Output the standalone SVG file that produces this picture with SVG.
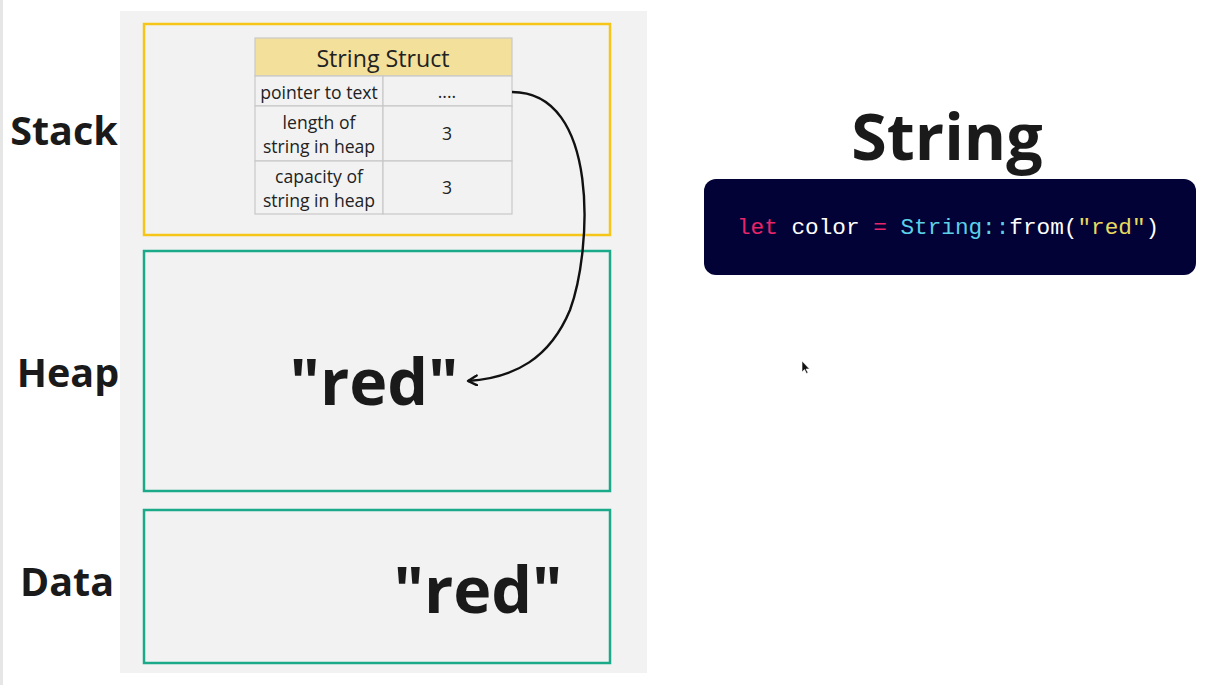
<svg xmlns="http://www.w3.org/2000/svg" width="1222" height="685" viewBox="0 0 1222 685">
<defs>
<style>
.lbl{font-family:"Open Sans","Noto Sans",sans-serif;font-weight:bold;fill:#1a1a1a}
.cell{font-family:"Open Sans","Noto Sans",sans-serif;font-size:17.6px;fill:#222;text-anchor:middle}
.tb{fill:#f2f2f2;stroke:#c8c8c8;stroke-width:1.2}
.code{font-family:"Liberation Mono","DejaVu Sans Mono",monospace;font-size:22.7px}
</style>
<marker id="ah" viewBox="0 0 12 12" refX="10" refY="6" markerWidth="12" markerHeight="12" markerUnits="userSpaceOnUse" orient="auto">
<path d="M1,1 L10,6 L1,11" fill="none" stroke="#111" stroke-width="2.4" stroke-linecap="round" stroke-linejoin="round"/>
</marker>
</defs>
<rect width="1222" height="685" fill="#ffffff"/>
<rect x="0" y="0" width="3" height="685" fill="#e6e6e6"/>
<rect x="120" y="11" width="527" height="662" fill="#f2f2f2"/>

<g id="stack">
<rect x="144" y="24" width="466" height="211" fill="none" stroke="#f5c518" stroke-width="2.5"/>
<text class="lbl" x="64" y="145" font-size="39.5" text-anchor="middle">Stack</text>
</g>
<g id="heap">
<rect x="144" y="251" width="466" height="240" fill="none" stroke="#1aaa8a" stroke-width="2.5"/>
<text class="lbl" x="68" y="387" font-size="39.5" text-anchor="middle">Heap</text>
<text class="lbl" x="374" y="405" font-size="64.5" text-anchor="middle">"red"</text>
</g>
<g id="data">
<rect x="144" y="510" width="466" height="153" fill="none" stroke="#1aaa8a" stroke-width="2.5"/>
<text class="lbl" x="67" y="596" font-size="39.5" text-anchor="middle">Data</text>
<text class="lbl" x="478" y="613" font-size="64.5" text-anchor="middle">"red"</text>
</g>

<g id="string-struct">
<rect x="255" y="38" width="257" height="38" fill="#f3e09a" stroke="#c8c8c8" stroke-width="1.2"/>
<rect class="tb" x="255" y="76" width="128" height="30"/>
<rect class="tb" x="383" y="76" width="129" height="30"/>
<rect class="tb" x="255" y="106" width="128" height="55"/>
<rect class="tb" x="383" y="106" width="129" height="55"/>
<rect class="tb" x="255" y="161" width="128" height="53"/>
<rect class="tb" x="383" y="161" width="129" height="53"/>
<text x="383" y="67" font-family="Open Sans,Noto Sans,sans-serif" font-size="23.2" fill="#222" text-anchor="middle">String Struct</text>
<text class="cell" x="319" y="99">pointer to text</text>
<text class="cell" x="447" y="98">....</text>
<text class="cell" x="319" y="129">length of</text>
<text class="cell" x="319" y="153">string in heap</text>
<text class="cell" x="447" y="140">3</text>
<text class="cell" x="319" y="183">capacity of</text>
<text class="cell" x="319" y="207">string in heap</text>
<text class="cell" x="447" y="194">3</text>
</g>

<g id="connectors">
<path d="M512,92 C600,92 592,250 570,310 C550,358 515,378 468,381" fill="none" stroke="#111" stroke-width="2.4" marker-end="url(#ah)"/>
</g>

<g id="title">
<text class="lbl" x="947" y="160" font-size="64.5" text-anchor="middle">String</text>
</g>
<g id="code">
<rect x="704" y="179" width="492" height="96" rx="12" fill="#020236"/>
<text class="code" x="737" y="234" xml:space="preserve"><tspan fill="#e8246a">let</tspan><tspan fill="#ffffff"> color </tspan><tspan fill="#e8246a">=</tspan><tspan fill="#ffffff"> </tspan><tspan fill="#5cd0e6">String::</tspan><tspan fill="#ffffff">from(</tspan><tspan fill="#e8da5e">"red"</tspan><tspan fill="#ffffff">)</tspan></text>
</g>
<path d="M802,361 L802,372 L804.5,369.5 L806.5,373.5 L808,372.8 L806,369 L809.5,369 Z" fill="#111" stroke="#fff" stroke-width="0.6"/>
</svg>
